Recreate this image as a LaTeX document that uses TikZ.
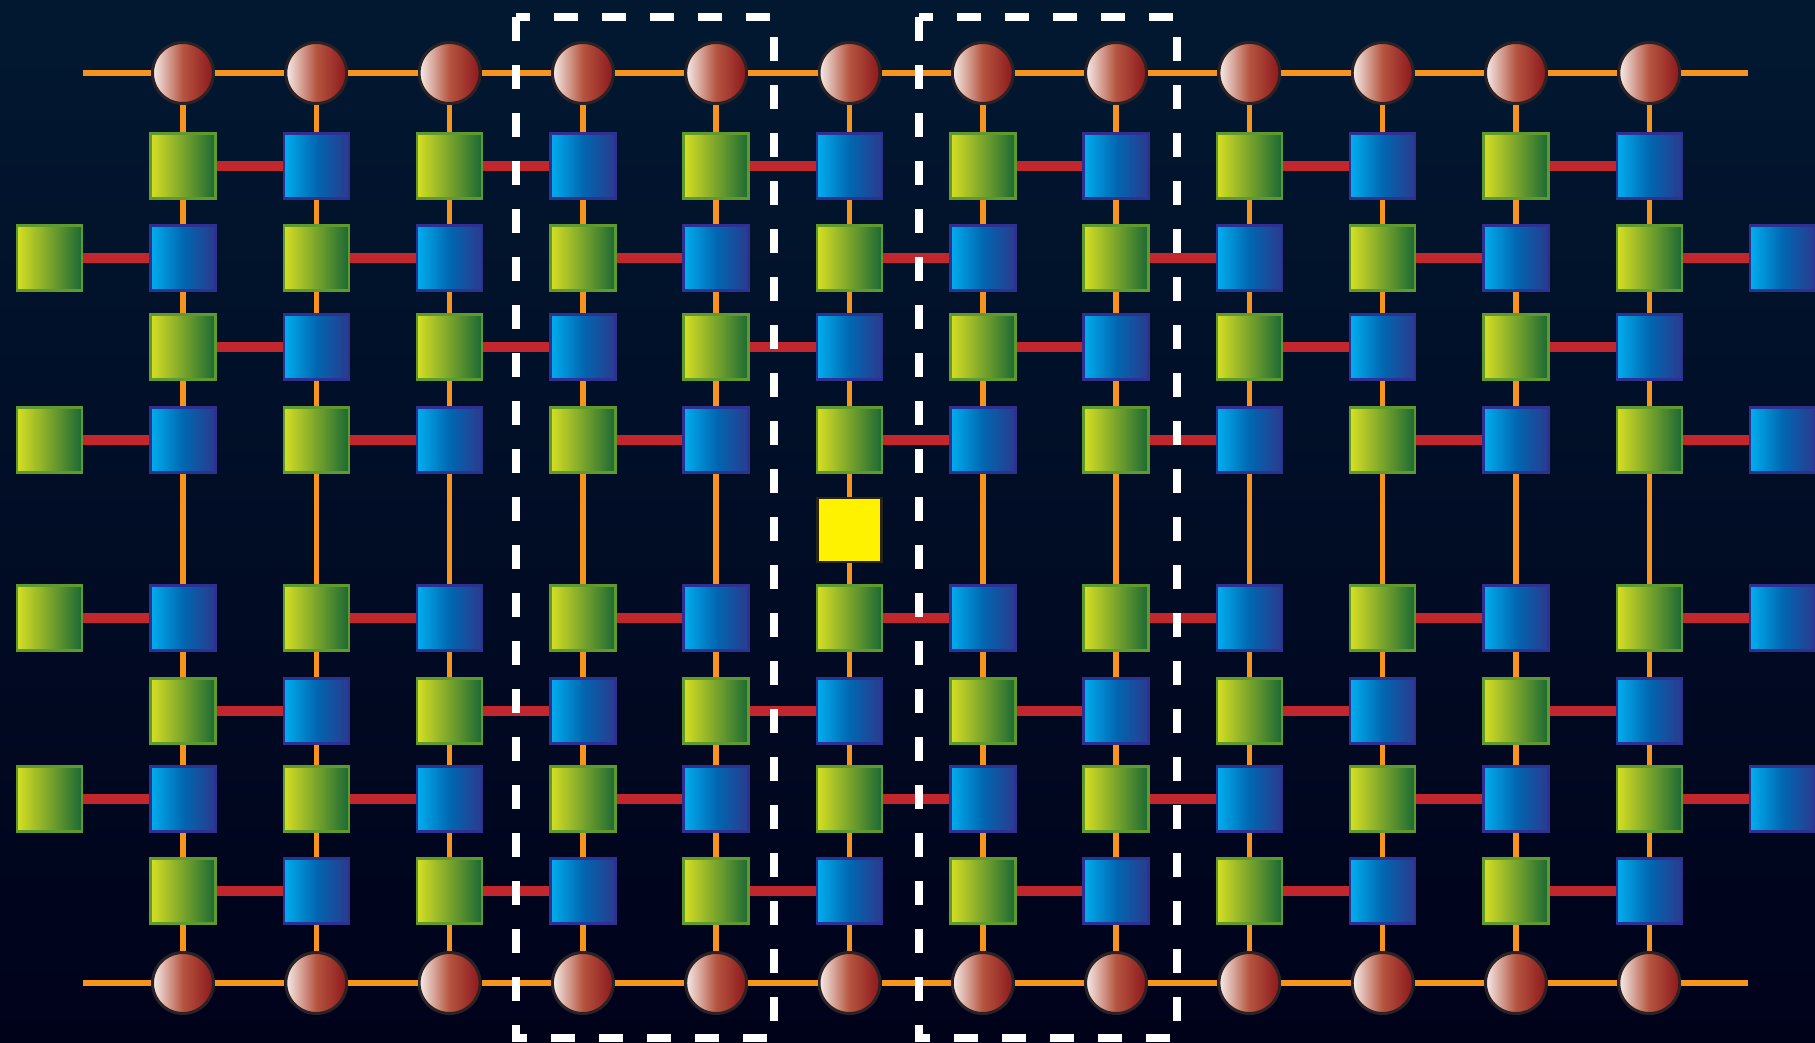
\documentclass[tikz,border=0pt]{standalone}
\usepackage{tikz}
\usetikzlibrary{positioning}
\definecolor{bgtop}{HTML}{021831}
\definecolor{bgbot}{HTML}{00021A}
\definecolor{orng}{HTML}{F7941D}
\definecolor{lred}{HTML}{C1272D}
\definecolor{qlt}{HTML}{F7EEEA}
\definecolor{qmid}{HTML}{B5543F}
\definecolor{qdk}{HTML}{8C171C}
\definecolor{qbrd}{HTML}{2A2224}
\definecolor{gleft}{HTML}{D7DF23}
\definecolor{gright}{HTML}{1A6934}
\definecolor{gbrd}{HTML}{5E9A2E}
\definecolor{bleft}{HTML}{00AEEF}
\definecolor{bmid}{HTML}{0067B1}
\definecolor{bright}{HTML}{2B3A8E}
\definecolor{bbrd}{HTML}{2E3192}
\definecolor{ylwf}{HTML}{FFF200}
\definecolor{ylwb}{HTML}{2A2410}
\tikzset{
  qbit/.style={circle,draw=qbrd,line width=3pt,minimum size=61pt,inner sep=0pt,
    left color=qlt,right color=qdk,middle color=qmid},          % register qubit
  gsq/.style={rectangle,draw=gbrd,line width=2.5pt,minimum size=65pt,inner sep=0pt,
    left color=gleft,right color=gright},                        % green gate
  bsq/.style={rectangle,draw=bbrd,line width=2.5pt,minimum size=65pt,inner sep=0pt,
    left color=bleft,right color=bright,middle color=bmid},     % blue gate
  ylw/.style={rectangle,draw=ylwb,line width=2.5pt,minimum size=64pt,inner sep=0pt,
    fill=ylwf},                                                  % marked gate
  vline/.style={draw=orng,line width=5.5pt},
  rlink/.style={draw=lred,line width=10pt},
  dbox/.style={draw=white,line width=8pt,dash pattern=on 24pt off 24pt},
}
\begin{document}
\begin{tikzpicture}[x=1pt,y=-1pt]
  % background
  \fill[top color=bgtop,bottom color=bgbot] (0,0) rectangle (1815,1042);
  \useasboundingbox (0,0) rectangle (1815,1042);
  % qubit registers, top and bottom
  \foreach \k in {1,...,12}{
    \pgfmathsetmacro\xx{49.7+133.3*\k}
    \node[qbit] (t\k) at (\xx,73) {};
    \node[qbit] (b\k) at (\xx,983) {};
  }
  \coordinate (tl) at (83,73);  \coordinate (tr) at (1748,73);
  \coordinate (bl) at (83,983); \coordinate (br) at (1748,983);
  % gate rows: type 0 = columns 1..12, type 1 = columns 0..13
  \foreach \r/\yy/\ty in {1/166/0,2/258/1,3/347/0,4/440/1,5/618/1,6/711/0,7/799/1,8/891/0}{
    \pgfmathtruncatemacro\kfirst{1-\ty}
    \pgfmathtruncatemacro\klast{12+\ty}
    \foreach \k in {\kfirst,...,\klast}{
      \pgfmathsetmacro\xx{49.7+133.3*\k}
      \pgfmathtruncatemacro\odd{mod(\k+\ty,2)}
      \ifnum\odd=1
        \node[gsq] (n\r-\k) at (\xx,\yy) {};
      \else
        \node[bsq] (n\r-\k) at (\xx,\yy) {};
      \fi
    }
  }
  \node[ylw] (ylw) at (849.5,530) {};
  % horizontal register lines
  \draw[vline] (tl) -- (t1) (t12) -- (tr);
  \draw[vline] (bl) -- (b1) (b12) -- (br);
  \foreach \k [evaluate=\k as \kn using int(\k+1)] in {1,...,11}{
    \draw[vline] (t\k) -- (t\kn);
    \draw[vline] (b\k) -- (b\kn);
  }
  % vertical wires
  \foreach \k in {1,...,12}{
    \draw[vline] (t\k) -- (n1-\k) (n8-\k) -- (b\k);
    \foreach \r [evaluate=\r as \rn using int(\r+1)] in {1,2,3,5,6,7}
      \draw[vline] (n\r-\k) -- (n\rn-\k);
    \ifnum\k=6
      \draw[vline] (n4-\k) -- (ylw) (ylw) -- (n5-\k);
    \else
      \draw[vline] (n4-\k) -- (n5-\k);
    \fi
  }
  % red couplings, green gate to its right neighbour
  \foreach \r/\ty in {1/0,2/1,3/0,4/1,5/1,6/0,7/1,8/0}{
    \pgfmathtruncatemacro\kfirst{1-\ty}
    \pgfmathtruncatemacro\knext{3-\ty}
    \pgfmathtruncatemacro\klast{11+\ty}
    \foreach \k [evaluate=\k as \kn using int(\k+1)] in {\kfirst,\knext,...,\klast}
      \draw[rlink] (n\r-\k) -- (n\r-\kn);
  }
  % dashed blocks
  \draw[dbox] (516,17) rectangle (774,1038);
  \draw[dbox] (919,17) rectangle (1177,1038);
\end{tikzpicture}
\end{document}
